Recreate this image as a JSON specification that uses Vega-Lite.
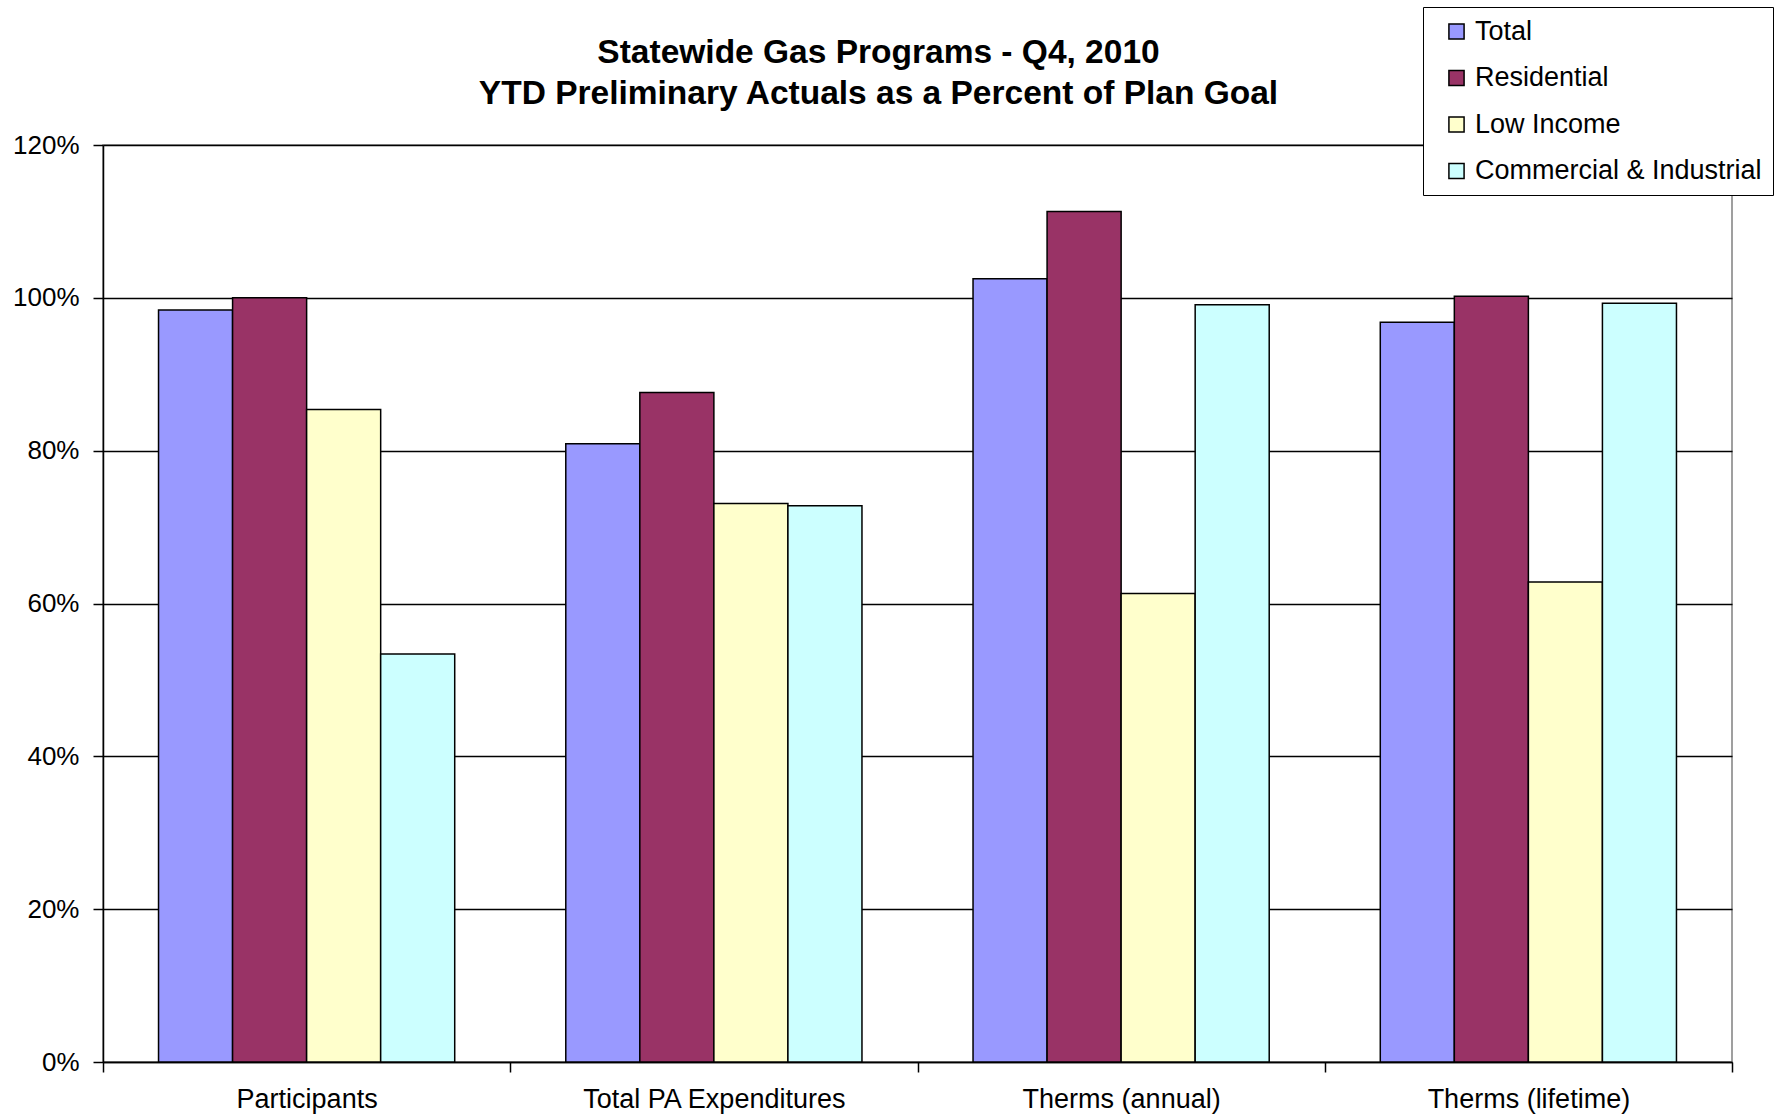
{
  "$schema": "https://vega.github.io/schema/vega-lite/v6.json",
  "autosize": "none",
  "width": 1629,
  "height": 917,
  "padding": {"left": 103, "top": 145, "right": 56, "bottom": 57},
  "background": "white",
  "config": {
    "font": "Liberation Sans",
    "view": {"stroke": "#808080", "strokeWidth": 1.5}
  },
  "title": {
    "text": ["Statewide Gas Programs - Q4, 2010", "YTD Preliminary Actuals as a Percent of Plan Goal"],
    "font": "Liberation Sans",
    "fontSize": 33.5,
    "fontWeight": "bold",
    "color": "#000000",
    "anchor": "middle",
    "dx": -39,
    "dy": 144.5,
    "offset": 40,
    "lineHeight": 41
  },
  "data": {
    "values": [
      {"category": "Participants", "series": "Total", "value": 0.984},
      {"category": "Participants", "series": "Residential", "value": 1.0},
      {"category": "Participants", "series": "Low Income", "value": 0.854},
      {"category": "Participants", "series": "Commercial & Industrial", "value": 0.534},
      {"category": "Total PA Expenditures", "series": "Total", "value": 0.809},
      {"category": "Total PA Expenditures", "series": "Residential", "value": 0.876},
      {"category": "Total PA Expenditures", "series": "Low Income", "value": 0.731},
      {"category": "Total PA Expenditures", "series": "Commercial & Industrial", "value": 0.728},
      {"category": "Therms (annual)", "series": "Total", "value": 1.025},
      {"category": "Therms (annual)", "series": "Residential", "value": 1.113},
      {"category": "Therms (annual)", "series": "Low Income", "value": 0.613},
      {"category": "Therms (annual)", "series": "Commercial & Industrial", "value": 0.991},
      {"category": "Therms (lifetime)", "series": "Total", "value": 0.968},
      {"category": "Therms (lifetime)", "series": "Residential", "value": 1.002},
      {"category": "Therms (lifetime)", "series": "Low Income", "value": 0.628},
      {"category": "Therms (lifetime)", "series": "Commercial & Industrial", "value": 0.993}
    ]
  },
  "mark": {"type": "bar", "stroke": "#000000", "strokeWidth": 1.5},
  "encoding": {
    "x": {
      "field": "category",
      "type": "nominal",
      "sort": ["Participants", "Total PA Expenditures", "Therms (annual)", "Therms (lifetime)"],
      "scale": {"paddingInner": 0, "paddingOuter": 0},
      "axis": {
        "title": null,
        "labelAngle": 0,
        "labelFontSize": 27,
        "labelColor": "#000000",
        "labelPadding": 14,
        "labelLimit": 600,
        "tickBand": "extent",
        "tickSize": 10,
        "tickColor": "#000000",
        "tickWidth": 1.5,
        "domainColor": "#000000",
        "domainWidth": 1.5,
        "grid": false
      }
    },
    "xOffset": {
      "field": "series",
      "type": "nominal",
      "sort": ["Total", "Residential", "Low Income", "Commercial & Industrial"],
      "scale": {"paddingInner": 0, "paddingOuter": 0.75}
    },
    "y": {
      "field": "value",
      "type": "quantitative",
      "scale": {"domain": [0, 1.2], "nice": false},
      "axis": {
        "title": null,
        "values": [0, 0.2, 0.4, 0.6, 0.8, 1.0, 1.2],
        "format": ".0%",
        "labelFontSize": 26,
        "labelColor": "#000000",
        "labelPadding": 14,
        "tickSize": 10,
        "tickColor": "#000000",
        "tickWidth": 1.5,
        "domainColor": "#000000",
        "domainWidth": 1.5,
        "grid": true,
        "gridColor": "#000000",
        "gridWidth": 1.3
      }
    },
    "fill": {
      "field": "series",
      "type": "nominal",
      "sort": ["Total", "Residential", "Low Income", "Commercial & Industrial"],
      "scale": {
        "domain": ["Total", "Residential", "Low Income", "Commercial & Industrial"],
        "range": ["#9999FF", "#993366", "#FFFFCC", "#CCFFFF"]
      },
      "legend": {
        "title": null,
        "orient": "none",
        "legendX": 1320,
        "legendY": -138,
        "symbolType": "square",
        "symbolSize": 230,
        "symbolStrokeColor": "#000000",
        "symbolStrokeWidth": 1.5,
        "labelFontSize": 27,
        "labelColor": "#000000",
        "labelLimit": 400,
        "labelOffset": 5,
        "rowPadding": 18.5,
        "padding": 11,
        "strokeColor": "#000000",
        "fillColor": "#FFFFFF",
        "symbolOffset": 9
      }
    }
  }
}
